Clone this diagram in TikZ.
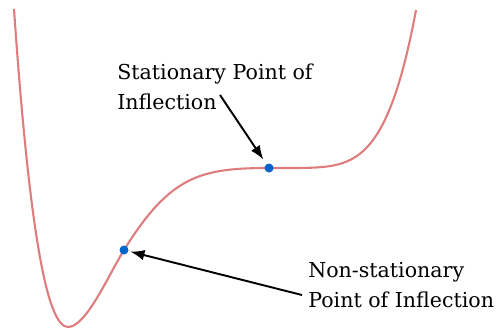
\documentclass[tikz,border=0pt]{standalone}
\usepackage{fontspec}
\setmainfont{DejaVu Serif}
\usepackage{tikz}
\usetikzlibrary{arrows.meta}
\definecolor{curvered}{RGB}{222,125,125}
\definecolor{dotblue}{RGB}{0,102,204}
\tikzset{
  dot/.style={circle, fill=dotblue, minimum size=0.18cm, inner sep=0pt},
  label text/.style={anchor=north west, inner sep=0pt, align=left, font=\fontsize{11.7}{17}\selectfont},
  pointer/.style={line width=1.1pt, -{Latex[length=8pt,width=6pt]}}
}
\begin{document}
\begin{tikzpicture}[x=0.02cm, y=-0.02cm]
  \useasboundingbox (0,0) rectangle (499,329);
  \draw[curvered, line width=1.2pt]
    (14,9) .. controls (30,240) and (48,327) .. (68,327)
    .. controls (86,327) and (108,276) .. (124,250)
    .. controls (170,176) and (200,168) .. (269,168)
    -- plot[domain=269:416, samples=80]
       (\x, {168-158*((\x-269)/147)*((\x-269)/147)*((\x-269)/147)*((\x-269)/147)*((\x-269)/147)});
  \draw
    (269,168) node[dot] (stat){}
    (124,250) node[dot] (nonstat){}
    (117,64) node[label text] (statlabel){Stationary Point of\\Inflection}
    (308,262) node[label text] (nonstatlabel){Non-stationary\\Point of Inflection};
  \coordinate (stattail) at (220,95);
  \coordinate (nonstattail) at (302,295);
  \begin{scope}[pointer]
    \draw[shorten >=3pt] (stattail) to (stat);
    \draw[shorten >=1pt] (nonstattail) to (nonstat);
  \end{scope}
\end{tikzpicture}
\end{document}
